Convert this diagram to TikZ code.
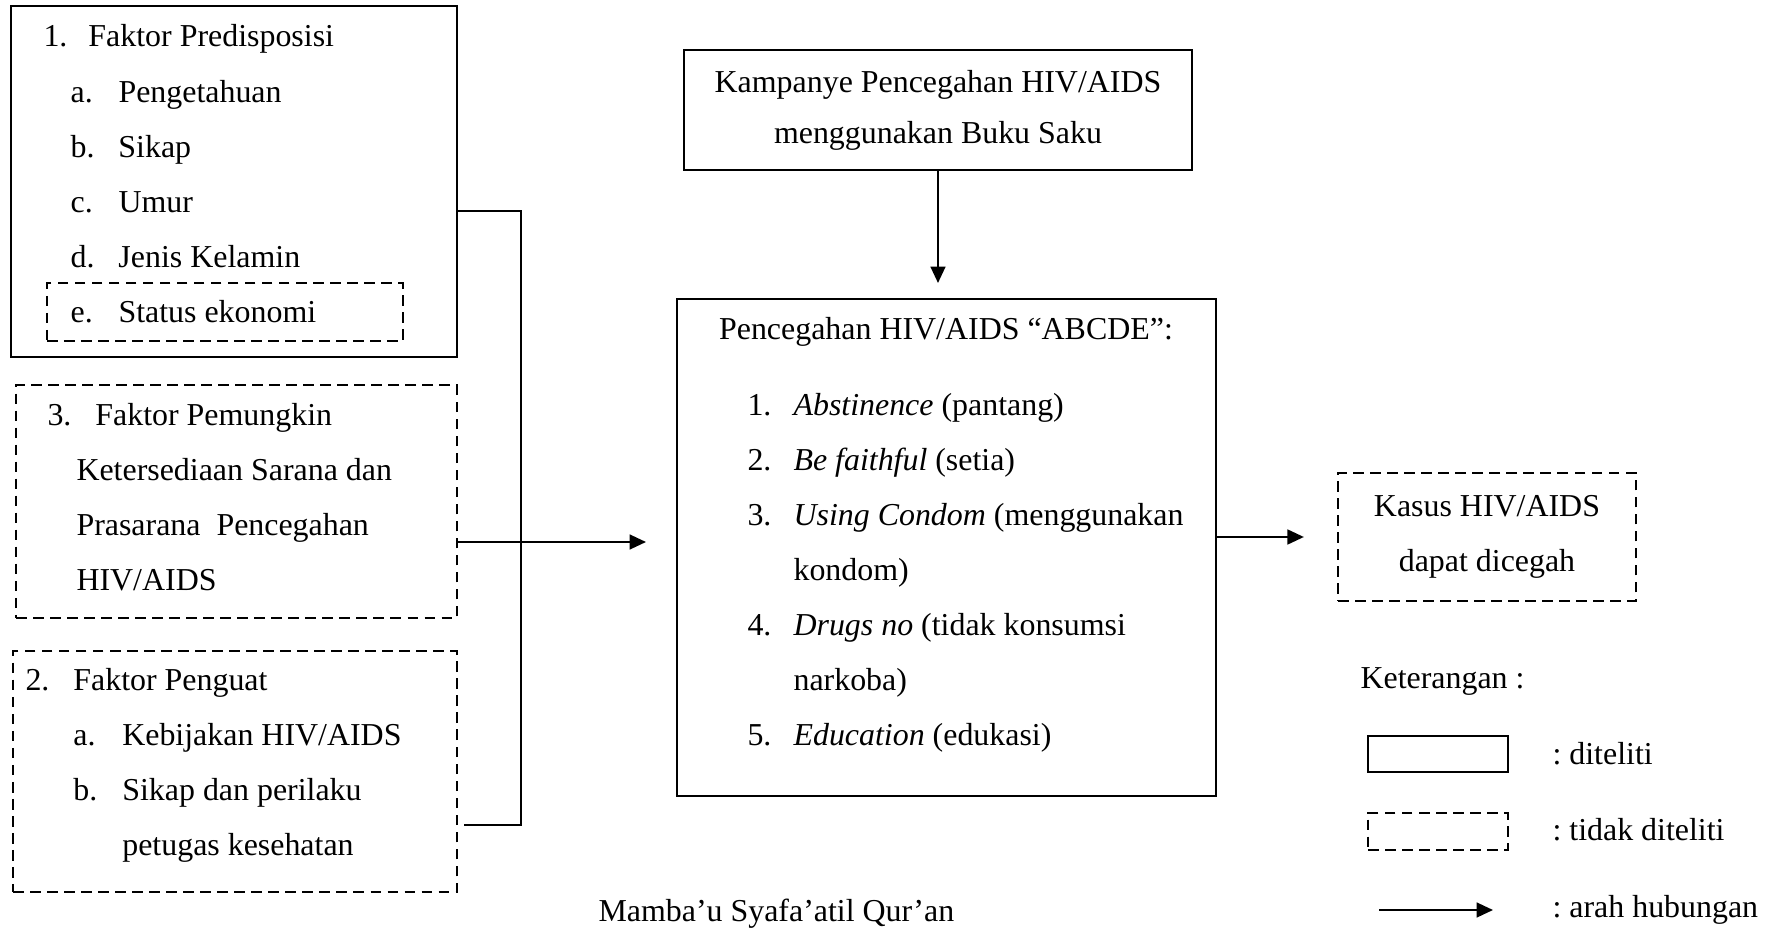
\documentclass[tikz,border=0pt]{standalone}
\usepackage{fontspec}
\setmainfont{Liberation Serif}
\usetikzlibrary{arrows.meta,calc}
\newcommand{\lbl}[2][17pt]{\makebox[#1][l]{#2}}
\frenchspacing

\begin{document}
\begin{tikzpicture}[x=0.376pt, y=-0.376pt,
  font=\fontsize{12}{20.7}\selectfont,
  box/.style={draw, line width=0.9pt, inner sep=0pt},
  dbox/.style={box, dash pattern=on 4pt off 2.4pt},
  txt/.style={anchor=base west, inner sep=0pt},
  link/.style={line width=0.5pt},
  arr/.style={line width=0.8pt, -{Triangle[length=6.2pt,width=5.6pt]}}]
  \useasboundingbox (0,0) rectangle (1779,928);

  % faktor-faktor
  \node[box, minimum width=167.7pt, minimum height=132pt] (pre) at (234,181.5) {};
  \node[dbox, minimum width=133.9pt, minimum height=21.8pt] (ekon) at (225,312) {};
  \node[dbox, minimum width=165.8pt, minimum height=87.6pt] (pm) at (236.5,501.5) {};
  \node[dbox, minimum width=166.9pt, minimum height=90.6pt] (pg) at (235,771.5) {};

  \node[txt] (pre-t) at (43,47) {\begin{tabular}[t]{@{}l@{}}
    \lbl[16.9pt]{1.}Faktor Predisposisi\\
    \hspace{10.2pt}\lbl[18pt]{a.}Pengetahuan\\
    \hspace{10.2pt}\lbl[18pt]{b.}Sikap\\
    \hspace{10.2pt}\lbl[18pt]{c.}Umur\\
    \hspace{10.2pt}\lbl[18pt]{d.}Jenis Kelamin\\
    \hspace{10.2pt}\lbl[18pt]{e.}Status ekonomi
  \end{tabular}};
  \node[txt] (pm-t) at (47,425) {\begin{tabular}[t]{@{}l@{}}
    \lbl[18pt]{3.}Faktor Pemungkin\\
    \hspace{10.9pt}Ketersediaan Sarana dan\\
    \hspace{10.9pt}Prasarana\ \ Pencegahan\\
    \hspace{10.9pt}HIV/AIDS
  \end{tabular}};
  \node[txt] (pg-t) at (25,690) {\begin{tabular}[t]{@{}l@{}}
    \lbl[18pt]{2.}Faktor Penguat\\
    \hspace{18pt}\lbl[18.4pt]{a.}Kebijakan HIV/AIDS\\
    \hspace{18pt}\lbl[18.4pt]{b.}Sikap dan perilaku\\
    \hspace{36.4pt}petugas kesehatan
  \end{tabular}};

  % kampanye dan pencegahan
  \node[box, minimum width=191pt, minimum height=45.1pt, align=center,
    font=\fontsize{12}{19.2}\selectfont] (kamp) at (938,110)
    {Kampanye Pencegahan HIV/AIDS\\menggunakan Buku Saku};
  \node[box, minimum width=202.7pt, minimum height=186.9pt] (abcde) at (946.5,547.5) {};
  \node[anchor=base, inner sep=0pt] (abcde-t) at (946,340) {Pencegahan HIV/AIDS “ABCDE”:};
  \node[txt] (abcde-l) at (747,415) {\begin{tabular}[t]{@{}l@{}}
    \lbl[17.3pt]{1.}\textit{Abstinence} (pantang)\\
    \lbl[17.3pt]{2.}\textit{Be faithful} (setia)\\
    \lbl[17.3pt]{3.}\textit{Using Condom} (menggunakan\\
    \hspace{17.3pt}kondom)\\
    \lbl[17.3pt]{4.}\textit{Drugs no} (tidak konsumsi\\
    \hspace{17.3pt}narkoba)\\
    \lbl[17.3pt]{5.}\textit{Education} (edukasi)
  \end{tabular}};
  \node[dbox, minimum width=112pt, minimum height=48.1pt, align=center] (kasus) at (1487,537)
    {Kasus HIV/AIDS\\dapat dicegah};
  \node[txt] (lokasi) at (598,921) {Mamba’u Syafa’atil Qur’an};

  % keterangan
  \node[txt] (ket) at (1360,688) {Keterangan :};
  \node[box, minimum width=52.6pt, minimum height=13.5pt] (leg1) at (1438,754) {};
  \node[dbox, minimum width=52.6pt, minimum height=13.9pt] (leg2) at (1438,831.5) {};
  \node[txt] (leg1-t) at (1552,764) {: diteliti};
  \node[txt] (leg2-t) at (1552,840) {: tidak diteliti};
  \node[txt] (leg3-t) at (1552,917) {: arah hubungan};
  \coordinate (la) at (1379,910);
  \coordinate (lb) at (1493,910);

  % hubungan
  \coordinate (jtop) at (521,211);
  \coordinate (jbot) at (521,825);
  \coordinate (into) at (646,542);
  \coordinate (kin) at (938,283);
  \draw[link] (pre.east |- jtop) -- (jtop) -- (jbot) -- ($(pg.east |- jbot)+(6,0)$);
  \draw[arr] (pm.east |- into) -- (into);
  \draw[arr] (kamp) -- (kin);
  \draw[arr] (abcde.east |- kasus) -- ($(kasus.west)+(-33,0)$);
  \draw[arr] (la) -- (lb);
\end{tikzpicture}
\end{document}
